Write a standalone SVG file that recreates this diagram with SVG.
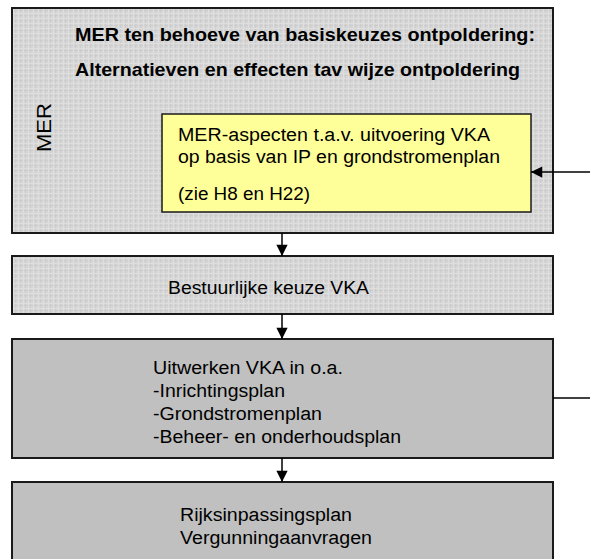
<svg xmlns="http://www.w3.org/2000/svg" width="590" height="559" viewBox="0 0 590 559">
  <style>
    .box { stroke: #1a1a1a; stroke-width: 2; }
    .grid { fill: url(#hatch); }
    .plain { fill: #c0c0c0; }
    .note { fill: #ffff99; stroke: #1a1a1a; stroke-width: 1.5; }
    .t { font-family: "Liberation Sans", Arial, sans-serif; font-size: 18px; fill: #000; }
    .b { font-weight: bold; font-size: 19px; }
    .big { font-size: 21px; }
    .edge { stroke: #000; stroke-width: 1.5; fill: none; }
  </style>
  <defs>
    <pattern id="hatch" width="5" height="5" patternUnits="userSpaceOnUse">
      <rect width="5" height="5" fill="#d6d6d6"/>
      <rect width="1" height="5" fill="#cdcdcd"/>
      <rect width="5" height="1" fill="#cdcdcd"/>
      <rect x="3" width="1" height="5" fill="#dedede"/>
      <rect y="3" width="5" height="1" fill="#dedede"/>
    </pattern>
    <marker id="arrow" viewBox="0 0 10 10" refX="10" refY="5" markerWidth="8" markerHeight="7.5" markerUnits="strokeWidth" orient="auto">
      <path d="M0,0 L10,5 L0,10 Z" fill="#000"/>
    </marker>
  </defs>

  <!-- MER block -->
  <g id="mer">
    <rect class="box grid" x="12" y="8" width="541" height="225"/>
    <text class="t b" x="75" y="41" textLength="460" lengthAdjust="spacingAndGlyphs">MER ten behoeve van basiskeuzes ontpoldering:</text>
    <text class="t b" x="75" y="76" textLength="445" lengthAdjust="spacingAndGlyphs">Alternatieven en effecten tav wijze ontpoldering</text>
    <text class="t big" transform="translate(51,152) rotate(-90)" textLength="49" lengthAdjust="spacingAndGlyphs">MER</text>
  </g>

  <g id="mer-aspecten">
    <rect class="note" x="162" y="114" width="369" height="98"/>
    <text class="t" x="178" y="141" textLength="312" lengthAdjust="spacingAndGlyphs">MER-aspecten t.a.v. uitvoering VKA</text>
    <text class="t" x="178" y="163" textLength="322" lengthAdjust="spacingAndGlyphs">op basis van IP en grondstromenplan</text>
    <text class="t" x="178" y="200" textLength="132" lengthAdjust="spacingAndGlyphs">(zie H8 en H22)</text>
  </g>

  <g id="keuze">
    <rect class="box grid" x="12" y="256" width="541" height="58"/>
    <text class="t" x="168" y="294" textLength="201" lengthAdjust="spacingAndGlyphs">Bestuurlijke keuze VKA</text>
  </g>

  <g id="uitwerken">
    <rect class="box plain" x="12" y="339" width="541" height="119"/>
    <text class="t" x="153" y="374" textLength="190" lengthAdjust="spacingAndGlyphs">Uitwerken VKA in o.a.</text>
    <text class="t" x="153" y="397" textLength="132" lengthAdjust="spacingAndGlyphs">-Inrichtingsplan</text>
    <text class="t" x="153" y="420" textLength="169" lengthAdjust="spacingAndGlyphs">-Grondstromenplan</text>
    <text class="t" x="153" y="443" textLength="248" lengthAdjust="spacingAndGlyphs">-Beheer- en onderhoudsplan</text>
  </g>

  <g id="rijksinpassing">
    <rect class="box plain" x="12" y="482" width="541" height="90"/>
    <text class="t" x="180" y="521" textLength="172" lengthAdjust="spacingAndGlyphs">Rijksinpassingsplan</text>
    <text class="t" x="180" y="544" textLength="192" lengthAdjust="spacingAndGlyphs">Vergunningaanvragen</text>
  </g>

  <!-- connectors, drawn over the boxes -->
  <g id="connectors">
    <line class="edge" x1="282" y1="233" x2="282" y2="256" marker-end="url(#arrow)"/>
    <line class="edge" x1="282" y1="314" x2="282" y2="339" marker-end="url(#arrow)"/>
    <line class="edge" x1="282" y1="458" x2="282" y2="482" marker-end="url(#arrow)"/>
    <line class="edge" x1="590" y1="172" x2="531" y2="172" marker-end="url(#arrow)"/>
    <line class="edge" x1="553" y1="398" x2="590" y2="398"/>
  </g>
</svg>
